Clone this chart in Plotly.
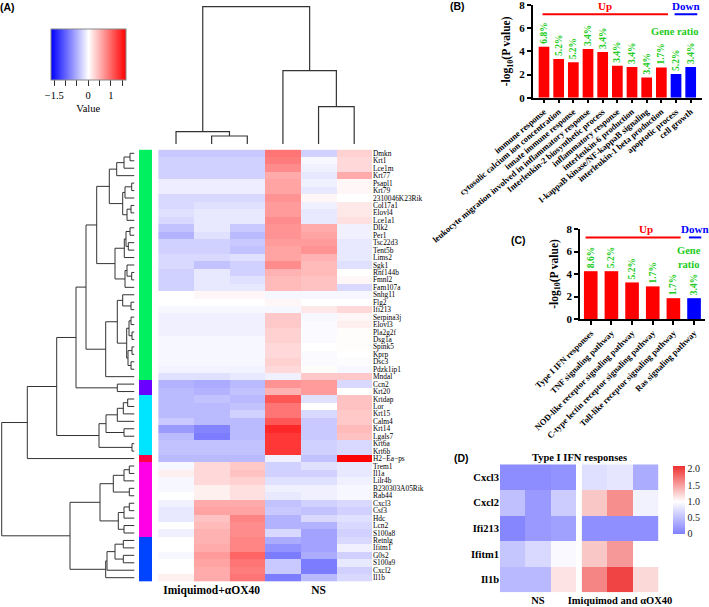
import plotly.graph_objects as go

W, H = 709, 607
def PX(p): return p / W
def PY(p): return 1 - p / H

SERIF = "Liberation Serif"
SANS = "Liberation Sans"

# ---------------- Panel A data ----------------
genes = ["Dmkn", "Krt1", "Lce1m", "Krt77", "Psapl1", "Krt79", "2310046K23Rik", "Col17a1",
         "Elovl4", "Lce1a1", "Dlk2", "Per1", "Tsc22d3", "Tent5b", "Lims2", "Sgk1", "Rnf144b",
         "Fmnl2", "Fam107a", "Snhg11", "Flg2", "Ifi213", "Serpina3j", "Elovl3", "Pla2g2f",
         "Dsg1a", "Spink5", "Kprp", "Dsc3", "Pdzk1ip1", "Mndal", "Ccn2", "Krt20", "Krtdap",
         "Lor", "Krt15", "Calm4", "Krt14", "Lgals7", "Krt6a", "Krt6b", "H2\u2212Ea\u2212ps", "Trem1",
         "Il1a", "Lilr4b", "B230303A05Rik", "Rab44", "Cxcl3", "Csf3", "Hdc", "Lcn2", "S100a8",
         "Retnlg", "Ifitm1", "G0s2", "S100a9", "Cxcl2", "Il1b"]

heat_values = [
    [-0.35, -0.35, -0.35, 0.90, -0.30, 0.30],
    [-0.30, -0.30, -0.30, 0.85, -0.05, 0.25],
    [-0.30, -0.30, -0.30, 0.75, -0.10, 0.25],
    [-0.30, -0.30, -0.30, 0.55, -0.15, 0.55],
    [-0.12, -0.12, -0.12, 0.60, -0.10, 0.05],
    [-0.12, -0.12, -0.12, 0.60, -0.15, 0.05],
    [-0.25, -0.25, -0.25, 0.70, 0.05, 0.00],
    [-0.25, -0.20, -0.20, 0.65, -0.10, 0.15],
    [-0.20, -0.15, -0.15, 0.65, -0.15, 0.15],
    [-0.25, -0.15, -0.15, 0.75, -0.15, 0.20],
    [-0.40, -0.15, -0.35, 0.70, 0.55, -0.10],
    [-0.50, -0.20, -0.45, 0.70, 0.60, -0.10],
    [-0.30, -0.30, -0.35, 0.65, 0.65, -0.15],
    [-0.30, -0.30, -0.40, 0.60, 0.70, -0.15],
    [-0.25, -0.25, -0.20, 0.60, 0.50, -0.15],
    [-0.25, -0.40, -0.30, 0.75, 0.45, -0.20],
    [-0.30, -0.15, -0.30, 0.50, 0.45, 0.00],
    [-0.30, -0.15, -0.20, 0.45, 0.40, 0.05],
    [-0.30, -0.15, -0.15, 0.45, 0.40, -0.25],
    [0.00, 0.05, 0.05, -0.05, -0.05, -0.05],
    [0.00, 0.00, 0.00, 0.05, 0.00, 0.00],
    [-0.05, -0.05, -0.05, -0.05, 0.15, 0.25],
    [-0.10, -0.10, -0.10, 0.35, -0.05, 0.05],
    [-0.10, -0.10, -0.10, 0.35, -0.03, 0.10],
    [-0.10, -0.10, -0.10, 0.30, -0.03, 0.02],
    [-0.05, -0.05, -0.05, 0.30, -0.03, 0.02],
    [-0.05, -0.05, -0.05, 0.25, 0.00, 0.02],
    [-0.05, -0.05, -0.05, 0.25, -0.03, 0.00],
    [-0.05, -0.05, -0.05, 0.30, -0.03, -0.02],
    [-0.08, -0.08, -0.08, 0.25, 0.02, -0.05],
    [-0.20, -0.20, -0.15, -0.10, 0.35, 0.35],
    [-0.50, -0.55, -0.45, 0.70, 0.65, -0.25],
    [-0.45, -0.50, -0.40, 0.50, 0.65, 0.00],
    [-0.45, -0.40, -0.45, 1.10, -0.20, 0.40],
    [-0.45, -0.45, -0.40, 0.90, 0.00, 0.40],
    [-0.45, -0.45, -0.30, 0.90, -0.25, 0.35],
    [-0.35, -0.45, -0.45, 1.10, -0.35, 0.35],
    [-0.65, -0.80, -0.45, 1.40, -0.35, 0.45],
    [-0.45, -0.85, -0.45, 1.30, -0.35, 0.40],
    [-0.40, -0.40, -0.40, 1.30, -0.30, -0.25],
    [-0.40, -0.40, -0.40, 1.30, -0.30, -0.25],
    [-0.45, -0.45, -0.45, -0.10, -0.40, 1.65],
    [-0.05, 0.25, 0.35, -0.30, -0.20, -0.15],
    [0.10, 0.25, 0.40, -0.30, -0.30, -0.15],
    [-0.05, 0.25, 0.30, -0.20, -0.20, -0.10],
    [-0.05, 0.10, 0.20, -0.10, -0.10, -0.05],
    [0.00, 0.10, 0.20, -0.15, -0.10, -0.05],
    [-0.10, 0.55, 0.55, -0.40, -0.30, -0.25],
    [-0.15, 0.60, 0.60, -0.35, -0.40, -0.30],
    [-0.15, 0.40, 0.80, -0.50, -0.25, -0.20],
    [0.00, 0.45, 0.75, -0.50, -0.50, -0.25],
    [-0.10, 0.50, 0.75, -0.25, -0.60, -0.30],
    [0.00, 0.50, 0.80, -0.55, -0.60, -0.25],
    [0.00, 0.55, 0.80, -0.70, -0.60, -0.10],
    [-0.05, 0.65, 1.00, -0.85, -0.55, -0.30],
    [0.00, 0.60, 0.90, -0.35, -0.85, -0.15],
    [0.00, 0.55, 0.85, -0.35, -0.85, -0.30],
    [0.10, 0.55, 0.90, -0.85, -0.45, -0.25],
]
group_labels = ["Imiquimod+\u03b1OX40", "NS"]
cluster_sizes = [31, 2, 8, 1, 10, 6]
cluster_colors = ["#00F060", "#6A00FF", "#00E5FF", "#FF0044", "#FF00E6", "#0044FF"]

# row dendrogram merges: (name, child1, child2, height)
row_merges = [
    ("a", "Dmkn", "Krt1", 4.5), ("b", "a", "Lce1m", 10.5), ("c", "b", "Krt77", 17.8),
    ("d", "Psapl1", "Krt79", 2.8), ("e", "d", "2310046K23Rik", 9.5),
    ("f", "Col17a1", "Elovl4", 3.5), ("g", "f", "Lce1a1", 7.5), ("h", "e", "g", 11.8),
    ("i", "c", "h", 25.2),
    ("j", "Dlk2", "Per1", 4.5), ("k", "Tsc22d3", "Tent5b", 6.2), ("l", "j", "k", 8.5),
    ("m", "l", "Lims2", 10.2), ("n", "Rnf144b", "Fmnl2", 2.8), ("o", "Sgk1", "n", 7.5),
    ("p", "o", "Fam107a", 9.5), ("q", "m", "p", 19.5), ("r", "i", "q", 37.8),
    ("s", "Flg2", "Ifi213", 3.5), ("t", "Snhg11", "s", 11.8),
    ("u", "Serpina3j", "Elovl3", 3.5), ("v", "Pla2g2f", "Dsg1a", 2.5), ("w", "u", "v", 5.5),
    ("x", "Spink5", "Kprp", 2.5), ("y", "Dsc3", "Pdzk1ip1", 3.5), ("z", "x", "y", 6.5),
    ("aa", "w", "z", 7.8), ("ab", "t", "aa", 17.2), ("ac", "ab", "Mndal", 28.8),
    ("ad", "r", "ac", 48.5),
    ("ae", "Ccn2", "Krt20", 17.2), ("af", "ad", "ae", 58.5),
    ("ag", "Krtdap", "Lor", 6.8), ("ah", "ag", "Krt15", 11.2), ("ai", "ah", "Calm4", 17.2),
    ("aj", "Krt14", "Lgals7", 10.5), ("ak", "ai", "aj", 28.5), ("al", "Krt6a", "Krt6b", 2.5),
    ("am", "ak", "al", 35.5), ("an", "af", "am", 77.8), ("ao", "an", "H2\u2212Ea\u2212ps", 107.2),
    ("ap", "Trem1", "Il1a", 5.2), ("aq", "ap", "Lilr4b", 10.5),
    ("ar", "B230303A05Rik", "Rab44", 5.2), ("as", "aq", "ar", 21.2),
    ("at", "Cxcl3", "Csf3", 5.2), ("au", "at", "Hdc", 10.5), ("av", "Lcn2", "S100a8", 10.5),
    ("aw", "au", "av", 16.2), ("ax", "as", "aw", 34.5),
    ("ay", "Retnlg", "Ifitm1", 11.2), ("az", "G0s2", "S100a9", 11.2), ("ba", "ay", "az", 19.5),
    ("bb", "ba", "Cxcl2", 27.5), ("bc", "bb", "Il1b", 28.8), ("bd", "ax", "bc", 64.5),
    ("root", "ao", "bd", 132.8),
]
col_names = ["c1", "c2", "c3", "c4", "c5", "c6"]
col_merges = [("c23", "c2", "c3", 8.0), ("c123", "c1", "c23", 12.3),
              ("c56", "c5", "c6", 37.3), ("c456", "c4", "c56", 73.3),
              ("croot", "c123", "c456", 137.3)]

# ---------------- Panel B data ----------------
b_terms = ["immune response", "cytosolic calcium ion concentration", "innate immune response",
           "leukocyte migration involved in inflammatory response",
           "Interleukin-2 biosynthetic process", "inflammatory response",
           "interleukin-6 production", "I-kappaB kinase/NF-kappaB signaling",
           "interleukin-1 beta production", "apoptotic process", "cell growth"]
b_values = [4.4, 3.35, 3.05, 4.2, 3.95, 2.75, 2.65, 1.75, 2.6, 2.05, 2.65]
b_ratio = ["6.8%", "5.2%", "5.2%", "3.4%", "3.4%", "3.4%", "3.4%", "3.4%", "1.7%", "5.2%", "3.4%"]
b_dir = ["Up"] * 9 + ["Down"] * 2

# ---------------- Panel C data ----------------
c_terms = ["Type I IFN responses", "TNF signaling pathway", "NOD-like receptor signaling pathway",
           "C-type lectin receptor signaling pathway", "Toll-like receptor signaling pathway",
           "Ras signaling pathway"]
c_values = [4.25, 4.25, 3.25, 2.9, 1.85, 1.85]
c_ratio = ["8.6%", "5.2%", "5.2%", "1.7%", "1.7%", "3.4%"]
c_dir = ["Up"] * 5 + ["Down"]

# ---------------- Panel D data ----------------
d_genes = ["Cxcl3", "Cxcl2", "Ifi213", "Ifitm1", "Il1b"]
d_ns = [[0.10, 0.10, 0.15], [0.50, 0.20, 0.60], [0.05, 0.20, 0.25], [0.55, 0.70, 0.95], [0.45, 0.45, 1.15]]
d_trt = [[0.75, 0.80, 0.35], [1.30, 1.60, 0.90], [0.12, 0.12, 0.12], [1.30, 1.55, 1.00], [1.65, 2.00, 1.20]]
d_groups = ["NS", "Imiquimod and \u03b1OX40"]

# ---------------- helpers ----------------
def dendro(merges, leaf_pos):
    pos = dict(leaf_pos)
    hgt = {k: 0.0 for k in leaf_pos}
    ps, hs = [], []
    for name, a, b, h in merges:
        ps += [pos[a], pos[a], pos[b], pos[b], None]
        hs += [hgt[a], h, h, hgt[b], None]
        pos[name] = (pos[a] + pos[b]) / 2
        hgt[name] = h
    return ps, hs

fig = go.Figure()
n = len(genes)
rows = list(range(n))

# heatmap A
fig.add_trace(go.Heatmap(z=heat_values, x=list(range(6)), y=rows, coloraxis="coloraxis",
                         xaxis="x", yaxis="y"))
# row dendrogram
rp, rh = dendro(row_merges, {g: i for i, g in enumerate(genes)})
fig.add_trace(go.Scatter(x=rh, y=rp, mode="lines", line=dict(color="#333333", width=1),
                         xaxis="x2", yaxis="y2", showlegend=False, hoverinfo="skip"))
# cluster strip
cl = []
for k, s in enumerate(cluster_sizes):
    cl += [[k]] * s
fig.add_trace(go.Heatmap(z=cl, x=[0], y=rows, zmin=0, zmax=len(cluster_colors) - 1,
                         colorscale=[[k / (len(cluster_colors) - 1), c] for k, c in enumerate(cluster_colors)],
                         showscale=False, xaxis="x3", yaxis="y3", hoverinfo="skip"))
# column dendrogram
cp, ch = dendro(col_merges, {c: i for i, c in enumerate(col_names)})
fig.add_trace(go.Scatter(x=cp, y=ch, mode="lines", line=dict(color="#333333", width=1.2),
                         xaxis="x4", yaxis="y4", showlegend=False, hoverinfo="skip"))

GREEN = "#22CC22"
def bars(terms, vals, ratios, dirs, xa, ya, width):
    cols = ["#FF0000" if d == "Up" else "#0000FF" for d in dirs]
    fig.add_trace(go.Bar(x=list(range(len(terms))), y=vals, marker=dict(color=cols, line=dict(width=0)),
                         width=width, text=ratios, textposition="outside", textangle=-90,
                         constraintext="none", cliponaxis=False,
                         textfont=dict(family=SERIF, size=9.5, color=GREEN, weight="bold"),
                         xaxis=xa, yaxis=ya, showlegend=False))

bars(b_terms, b_values, b_ratio, b_dir, "x5", "y5", 0.73)
bars(c_terms, c_values, c_ratio, c_dir, "x6", "y6", 0.66)

# heatmap D
dcs = [[0, "#8080FF"], [1 / 2.1, "#FFFFFF"], [1, "#EE3030"]]
fig.add_trace(go.Heatmap(z=d_ns, x=[0, 1, 2], y=d_genes, coloraxis="coloraxis2", xaxis="x7", yaxis="y7"))
fig.add_trace(go.Heatmap(z=d_trt, x=[0, 1, 2], y=d_genes, coloraxis="coloraxis2", xaxis="x8", yaxis="y7"))

blank = dict(showgrid=False, zeroline=False, showticklabels=False, ticks="", showline=False)
ydomA = [PY(581.4), PY(149.6)]

bold_axis = dict(showgrid=False, zeroline=False, showline=True, linecolor="black", linewidth=1.5,
                 ticks="outside", ticklen=4, tickwidth=1.5, tickcolor="black", ticklabeloverflow="allow")

fig.update_layout(
    width=W, height=H, margin=dict(l=0, r=0, t=0, b=0, autoexpand=False),
    paper_bgcolor="white", plot_bgcolor="white", showlegend=False,
    font=dict(family=SERIF, color="black"),
    coloraxis=dict(cmin=-1.66, cmax=1.66,
                   colorscale=[[0, "#0000FF"], [0.5, "#FFFFFF"], [1, "#FF0000"]],
                   colorbar=dict(orientation="h", x=PX(50.7), xanchor="left", y=PY(29.3), yanchor="top",
                                 len=75, lenmode="pixels", thickness=51, xpad=0, ypad=0,
                                 outlinecolor="#888888", outlinewidth=1,
                                 ticks="outside", ticklen=6, tickcolor="#333333", tickangle=0,
                                 tickvals=[-1.5, -1, -0.5, 0, 0.5, 1, 1.5],
                                 ticktext=["\u22121.5", " ", " ", "0", " ", "1", " "],
                                 tickfont=dict(family=SERIF, size=10.5),
                                 title=dict(text="Value", side="bottom", font=dict(family=SERIF, size=10.5)))),
    coloraxis2=dict(cmin=0, cmax=2.1, colorscale=dcs,
                    colorbar=dict(x=PX(673.3), xanchor="left", y=PY(465.7), yanchor="top",
                                  len=67.6, lenmode="pixels", thickness=12, xpad=0, ypad=0,
                                  outlinewidth=0, ticks="", tickvals=[0, 0.5, 1, 1.5, 2],
                                  ticktext=["0", "0.5", "1.0", "1.5", "2.0"],
                                  tickfont=dict(family=SERIF, size=10, color="#222222"))),
    xaxis=dict(domain=[PX(158.2), PX(372)], range=[-0.5, 5.5], showgrid=False, zeroline=False,
               tickvals=[1, 4], ticktext=group_labels, ticks="",
               tickfont=dict(family=SERIF, size=11.5, weight="bold"), anchor="y"),
    yaxis=dict(domain=ydomA, range=[n - 0.5, -0.5], showgrid=False, zeroline=False, side="right",
               tickvals=rows, ticktext=genes, ticks="", tickfont=dict(family=SERIF, size=7.4),
               anchor="x"),
    xaxis2=dict(domain=[0, PX(134.5)], range=[134.5, 0], anchor="y2", **blank),
    yaxis2=dict(domain=ydomA, range=[n - 0.5, -0.5], anchor="x2", **blank),
    xaxis3=dict(domain=[PX(139), PX(152)], range=[-0.5, 0.5], anchor="y3", **blank),
    yaxis3=dict(domain=ydomA, range=[n - 0.5, -0.5], anchor="x3", **blank),
    xaxis4=dict(domain=[PX(158.2), PX(372)], range=[-0.5, 5.5], anchor="y4", **blank),
    yaxis4=dict(domain=[PY(144), PY(6)], range=[0, 138], anchor="x4", **blank),
    xaxis5=dict(domain=[PX(532.7), PX(701.7)], range=[-0.77, 10.75], anchor="y5",
                tickvals=list(range(len(b_terms))), ticktext=b_terms, tickangle=-40,
                tickfont=dict(family=SERIF, size=8.6, weight="bold"), **bold_axis),
    yaxis5=dict(domain=[PY(97.7), PY(5)], range=[0, 8], anchor="x5", tickvals=[0, 2, 4, 6, 8],
                tickfont=dict(family=SERIF, size=11, weight="bold"),
                title=dict(text="-log<sub>10</sub>(P value)", standoff=6,
                           font=dict(family=SERIF, size=11.5, weight="bold")), **bold_axis),
    xaxis6=dict(domain=[PX(580), PX(705)], range=[-0.52, 5.53], anchor="y6",
                tickvals=list(range(len(c_terms))), ticktext=c_terms, tickangle=-45,
                tickfont=dict(family=SERIF, size=8.6, weight="bold"), **bold_axis),
    yaxis6=dict(domain=[PY(319), PY(229)], range=[0, 8], anchor="x6", tickvals=[0, 2, 4, 6, 8],
                tickfont=dict(family=SERIF, size=11, weight="bold"),
                title=dict(text="-log<sub>10</sub>(P value)", standoff=6,
                           font=dict(family=SERIF, size=11.5, weight="bold")), **bold_axis),
    xaxis7=dict(domain=[PX(500), PX(576)], range=[-0.5, 2.5], anchor="y7", showgrid=False,
                zeroline=False, tickvals=[1], ticktext=[d_groups[0]], ticks="",
                tickfont=dict(family=SERIF, size=10.5, weight="bold")),
    xaxis8=dict(domain=[PX(581.7), PX(658.3)], range=[-0.5, 2.5], anchor="y7", showgrid=False,
                zeroline=False, tickvals=[1], ticktext=[d_groups[1]], ticks="",
                tickfont=dict(family=SERIF, size=10.5, weight="bold")),
    yaxis7=dict(domain=[PY(592.3), PY(464.3)], autorange="reversed", anchor="x7", showgrid=False,
                zeroline=False, ticks="", tickfont=dict(family=SERIF, size=10.5, weight="bold")),
)
fig.update_xaxes(automargin=False)
fig.update_yaxes(automargin=False)

def note(**kw):
    fig.add_annotation(showarrow=False, xanchor="center", yanchor="middle", **kw)

# Up / Down brackets, computed from directions
def brackets(dirs, xref, yref, ly, ty, yshift, xlo_pad, xhi_pad, up_shift=0.0):
    for lab, col in (("Up", "#FF0000"), ("Down", "#0000FF")):
        idx = [i for i, d in enumerate(dirs) if d == lab]
        x0, x1 = min(idx) - xlo_pad, max(idx) + xhi_pad
        fig.add_shape(type="line", x0=x0, x1=x1, y0=ly, y1=ly, xref=xref, yref=yref,
                      line=dict(color=col, width=2))
        tx = (x0 + x1) / 2 + (up_shift if lab == "Up" else 0.0)
        note(x=tx, y=ty, yshift=yshift, xref=xref, yref=yref, text=lab,
             font=dict(family=SERIF, size=11, color=col, weight="bold"))

brackets(b_dir, "x5", "y5", 7.2, 7.95, 0, 0.1, 0.45)
brackets(c_dir, "x6", "y6", 7.25, 7.95, 1, 0.25, 0.35, up_shift=0.6)

note(x=8.9, y=5.75, xref="x5", yref="y5", text="Gene ratio",
     font=dict(family=SERIF, size=10.5, color=GREEN, weight="bold"))
note(x=4.75, y=5.5, xref="x6", yref="y6", text="Gene<br>ratio",
     font=dict(family=SERIF, size=10.5, color=GREEN, weight="bold"))
note(x=PX(579), y=PY(457.7), xref="paper", yref="paper", text="Type I IFN responses",
     font=dict(family=SERIF, size=10.5, weight="bold"))

for lab, px_, py_ in (("(A)", 7.5, 6.5), ("(B)", 457.5, 6), ("(C)", 518.5, 240), ("(D)", 461.5, 457.5)):
    note(x=PX(px_), y=PY(py_), xref="paper", yref="paper", text=lab,
         font=dict(family=SANS, size=10.5, weight="bold"))

fig.write_html("out.html", config={"displayModeBar": False},
               post_script="document.body.style.margin='0px';document.body.style.overflow='hidden';")
